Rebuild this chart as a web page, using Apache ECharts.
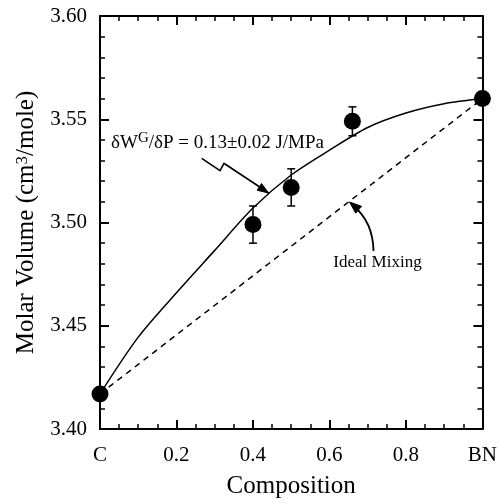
<!DOCTYPE html>
<html>
<head>
<meta charset="utf-8">
<script src="https://cdn.jsdelivr.net/npm/echarts@6/dist/echarts.min.js"></script>
<style>
html,body{margin:0;padding:0;background:#fff;}
#chart{width:500px;height:504px;}
</style>
</head>
<body>
<div id="chart"></div>
<script>
// ---- data ----
const pointX = [0, 0.4, 0.5, 0.66, 1.0];
const pointY = [3.417, 3.499, 3.517, 3.549, 3.560];
const pointErr = [0, 0.009, 0.009, 0.007, 0];

const curveX = [0, 0.1, 0.2, 0.3, 0.4, 0.5, 0.6, 0.7, 0.8, 0.9, 1.0];
const curveY = [3.417, 3.4445, 3.466, 3.4865, 3.507, 3.523, 3.535, 3.546, 3.553, 3.5575, 3.560];

const idealX = [0, 1.0];
const idealY = [3.417, 3.560];

const xTickNames = {0: 'C', 1: 'BN'};

// ---- chart ----
const FONT = "'Liberation Serif', 'Times New Roman', serif";
const chart = echarts.init(document.getElementById('chart'), null, {renderer: 'canvas'});

function axisBase(extra) {
  return Object.assign({
    type: 'value',
    axisLine: {show: true, onZero: false, lineStyle: {color: '#000', width: 2}},
    axisTick: {show: true, inside: true, length: 9, lineStyle: {color: '#000', width: 2}},
    minorTick: {show: true, length: 5, lineStyle: {color: '#000', width: 1.5}},
    splitLine: {show: false},
    minorSplitLine: {show: false}
  }, extra);
}

const xLabel = {
  color: '#000', fontFamily: FONT, fontSize: 21, margin: 16,
  formatter: function (v) {
    if (Math.abs(v) < 1e-9) return xTickNames[0];
    if (Math.abs(v - 1) < 1e-9) return xTickNames[1];
    return v.toFixed(1);
  }
};

const option = {
  animation: false,
  backgroundColor: '#fff',
  grid: {left: 100, top: 16, right: 17, bottom: 74, containLabel: false},
  xAxis: [
    axisBase({
      min: 0, max: 1, interval: 0.2, position: 'bottom',
      minorTick: {show: true, splitNumber: 4, length: 5, lineStyle: {color: '#000', width: 1.5}},
      axisLabel: xLabel,
      name: 'Composition', nameLocation: 'middle', nameGap: 45,
      nameTextStyle: {color: '#000', fontFamily: FONT, fontSize: 25}
    }),
    axisBase({
      min: 0, max: 1, interval: 0.2, position: 'top',
      minorTick: {show: true, splitNumber: 4, length: 5, lineStyle: {color: '#000', width: 1.5}},
      axisLabel: {show: false}
    })
  ],
  yAxis: [
    axisBase({
      min: 3.40, max: 3.60, interval: 0.05, position: 'left',
      minorTick: {show: true, splitNumber: 5, length: 5, lineStyle: {color: '#000', width: 1.5}},
      axisLabel: {color: '#000', fontFamily: FONT, fontSize: 21, margin: 13,
        formatter: function (v) { return v.toFixed(2); }},
      name: 'Molar Volume (cm{sup|3}/mole)', nameLocation: 'middle', nameGap: 56,
      nameTextStyle: {color: '#000', fontFamily: FONT, fontSize: 25,
        rich: {sup: {fontSize: 17, fontFamily: FONT, color: '#000', verticalAlign: 'top', lineHeight: 17}}}
    }),
    axisBase({
      min: 3.40, max: 3.60, interval: 0.05, position: 'right',
      minorTick: {show: true, splitNumber: 5, length: 5, lineStyle: {color: '#000', width: 1.5}},
      axisLabel: {show: false}
    })
  ],
  series: [
    {
      type: 'line', name: 'fit', smooth: 0.3, showSymbol: false, symbol: 'none',
      lineStyle: {color: '#000', width: 1.5},
      data: curveX.map((x, i) => [x, curveY[i]]),
      z: 2
    },
    {
      type: 'line', name: 'ideal', showSymbol: false, symbol: 'none',
      lineStyle: {color: '#000', width: 1.5, type: [6, 5]},
      data: idealX.map((x, i) => [x, idealY[i]]),
      z: 2
    },
    {
      type: 'custom', name: 'err',
      data: pointX.map((x, i) => [x, pointY[i], pointErr[i]]),
      renderItem: function (params, api) {
        const x = api.value(0), y = api.value(1), e = api.value(2);
        if (!e) return null;
        const top = api.coord([x, y + e]);
        const bot = api.coord([x, y - e]);
        const w = 4;
        const st = {stroke: '#000', lineWidth: 1.5};
        return {
          type: 'group',
          children: [
            {type: 'line', shape: {x1: top[0], y1: top[1], x2: bot[0], y2: bot[1]}, style: st},
            {type: 'line', shape: {x1: top[0] - w, y1: top[1], x2: top[0] + w, y2: top[1]}, style: st},
            {type: 'line', shape: {x1: bot[0] - w, y1: bot[1], x2: bot[0] + w, y2: bot[1]}, style: st}
          ]
        };
      },
      z: 3
    },
    {
      type: 'scatter', name: 'data', symbol: 'circle', symbolSize: 17,
      itemStyle: {color: '#000', opacity: 1},
      data: pointX.map((x, i) => [x, pointY[i]]),
      z: 4
    }
  ]
};

chart.setOption(option);

// ---- annotations ----
function arrowHead(tip, from, len, half) {
  const dx = tip[0] - from[0], dy = tip[1] - from[1];
  const L = Math.sqrt(dx * dx + dy * dy);
  const ux = dx / L, uy = dy / L;
  const bx = tip[0] - ux * len, by = tip[1] - uy * len;
  return [tip, [bx - uy * half, by + ux * half], [bx + uy * half, by - ux * half]];
}

const tip1 = [268.5, 193];
const p1 = [[201.7, 158.3], [220, 170.7], [224, 163.3], [226.5, 165], [262, 188.5]];
const tip2 = [349.5, 202];
const ctrl2 = [373, 222];

chart.setOption({
  graphic: [
    {
      type: 'text', left: 111, top: 131, z: 10,
      style: {
        text: '{a|δW}{s|G}{a|/δP = 0.13±0.02 J/MPa}',
        rich: {
          a: {fontFamily: FONT, fontSize: 19, fill: '#000', lineHeight: 22, verticalAlign: 'bottom'},
          s: {fontFamily: FONT, fontSize: 15, fill: '#000', lineHeight: 13, verticalAlign: 'top'}
        }
      }
    },
    {
      type: 'polyline', z: 10,
      shape: {points: p1.concat([tip1])},
      style: {stroke: '#000', lineWidth: 1.6, fill: null}
    },
    {
      type: 'polygon', z: 10,
      shape: {points: arrowHead(tip1, p1[3], 11, 4)},
      style: {fill: '#000', stroke: '#000', lineWidth: 1}
    },
    {
      type: 'bezierCurve', z: 10,
      shape: {x1: 373.5, y1: 251, cpx1: ctrl2[0], cpy1: ctrl2[1], x2: tip2[0] + 4, y2: tip2[1] + 4},
      style: {stroke: '#000', lineWidth: 1.8, fill: null}
    },
    {
      type: 'polygon', z: 10,
      shape: {points: arrowHead(tip2, ctrl2, 12, 4.5)},
      style: {fill: '#000', stroke: '#000', lineWidth: 1}
    },
    {
      type: 'text', z: 10, x: 377.5, y: 263,
      style: {
        text: 'Ideal Mixing', fontFamily: FONT, fontSize: 17, fill: '#000',
        align: 'center', verticalAlign: 'middle'
      }
    }
  ]
});
</script>
</body>
</html>
